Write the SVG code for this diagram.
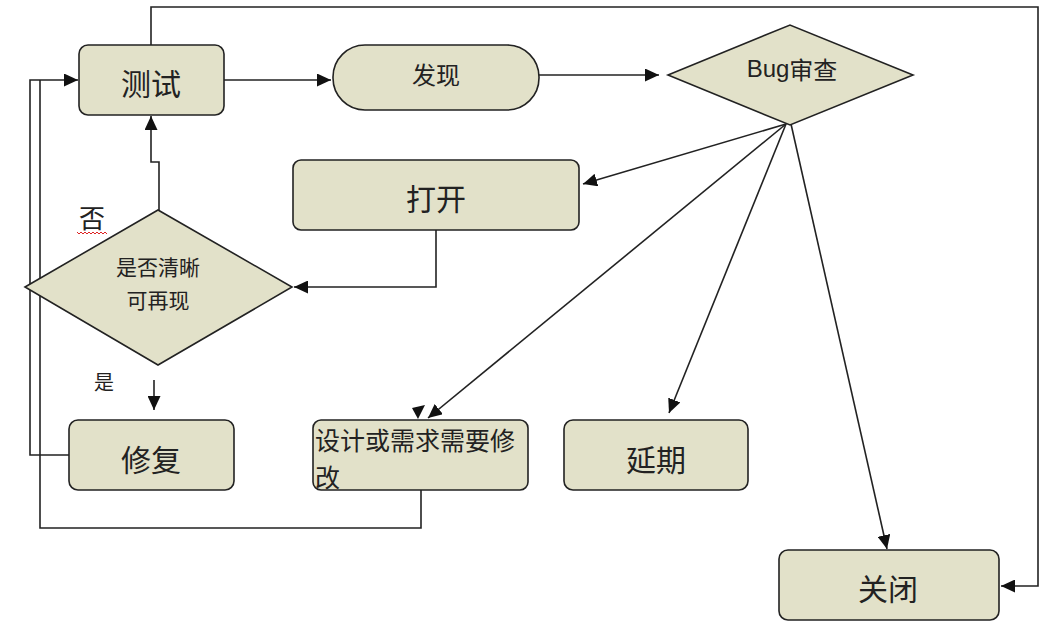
<svg xmlns="http://www.w3.org/2000/svg" width="1045" height="627" viewBox="0 0 1045 627">
<style>
.box{fill:#e2e1c9;stroke:#222;stroke-width:1.6}
.ln{fill:none;stroke:#222;stroke-width:1.6}
.t{font-family:"Noto Sans CJK SC","Liberation Sans",sans-serif;fill:#222;text-anchor:middle;dominant-baseline:central}
.big{font-size:30px}
.mid{font-size:24px}
</style>
<defs>
<marker id="ah" markerUnits="userSpaceOnUse" markerWidth="15" markerHeight="13" refX="14" refY="6.5" orient="auto">
<path d="M0,0 L14,6.5 L0,13 Z" fill="#111"/>
</marker>
</defs>
<rect width="1045" height="627" fill="#fff"/>
<g id="connectors">
<polyline class="ln" points="151,45 151,7 1038,7 1038,586 1001,586" marker-end="url(#ah)"/>
<line class="ln" x1="224" y1="80" x2="331" y2="80" marker-end="url(#ah)"/>
<line class="ln" x1="539" y1="75" x2="659" y2="75" marker-end="url(#ah)"/>
<line class="ln" x1="786" y1="124" x2="583" y2="184" marker-end="url(#ah)"/>
<line class="ln" x1="786" y1="124" x2="428" y2="418" marker-end="url(#ah)"/>
<path d="M425,405 L418,419 L412,408 Z" fill="#111"/>
<line class="ln" x1="786" y1="124" x2="669" y2="413" marker-end="url(#ah)"/>
<line class="ln" x1="791" y1="124" x2="887" y2="549" marker-end="url(#ah)"/>
<polyline class="ln" points="436,230 436,287 294,287" marker-end="url(#ah)"/>
<polyline class="ln" points="159,210 159,162 151,162 151,116" marker-end="url(#ah)"/>
<line class="ln" x1="154" y1="380" x2="154" y2="410" marker-end="url(#ah)"/>
<polyline class="ln" points="69,455 30,455 30,80 78,80" marker-end="url(#ah)"/>
<polyline class="ln" points="421,490 421,528 40,528 40,80"/>
</g>
<g id="node-test"><rect class="box" x="79" y="45" width="145" height="70" rx="9"/><text class="t big" x="151" y="82">测试</text></g>
<g id="node-found"><rect class="box" x="333" y="45" width="206" height="65" rx="32"/><text class="t mid" x="436" y="73">发现</text></g>
<g id="node-review"><polygon class="box" points="668,75 790,25 913,75 790,125"/><text class="t mid" x="792" y="68"><tspan font-family="Liberation Sans">Bug</tspan>审查</text></g>
<g id="node-open"><rect class="box" x="293" y="160" width="286" height="70" rx="8"/><text class="t big" x="436" y="197">打开</text></g>
<g id="node-clear"><polygon class="box" points="25,287 158,210 292,287 158,365"/><text class="t" style="font-size:21px" x="158" y="266">是否清晰</text><text class="t" style="font-size:21px" x="158" y="299">可再现</text></g>
<g id="label-no"><text class="t" style="font-size:26px" x="92" y="216">否</text><path d="M77,232 l2,2 l2,-2 l2,2 l2,-2 l2,2 l2,-2 l2,2 l2,-2 l2,2 l2,-2 l2,2 l2,-2 l2,2 l2,-2 l2,2" fill="none" stroke="#d22" stroke-width="1"/></g>
<g id="label-yes"><text class="t" style="font-size:20px" x="104" y="381">是</text></g>
<g id="node-fix"><rect class="box" x="69" y="420" width="165" height="70" rx="9"/><text class="t big" x="151" y="458">修复</text></g>
<g id="node-design"><rect class="box" x="313" y="420" width="215" height="70" rx="8"/><text class="t" style="font-size:25px;text-anchor:start" x="315" y="439">设计或需求需要修</text><text class="t" style="font-size:25px;text-anchor:start" x="315" y="476">改</text></g>
<g id="node-defer"><rect class="box" x="564" y="420" width="184" height="70" rx="9"/><text class="t big" x="656" y="458">延期</text></g>
<g id="node-close"><rect class="box" x="779" y="550" width="220" height="70" rx="9"/><text class="t big" x="888" y="587">关闭</text></g>
</svg>
